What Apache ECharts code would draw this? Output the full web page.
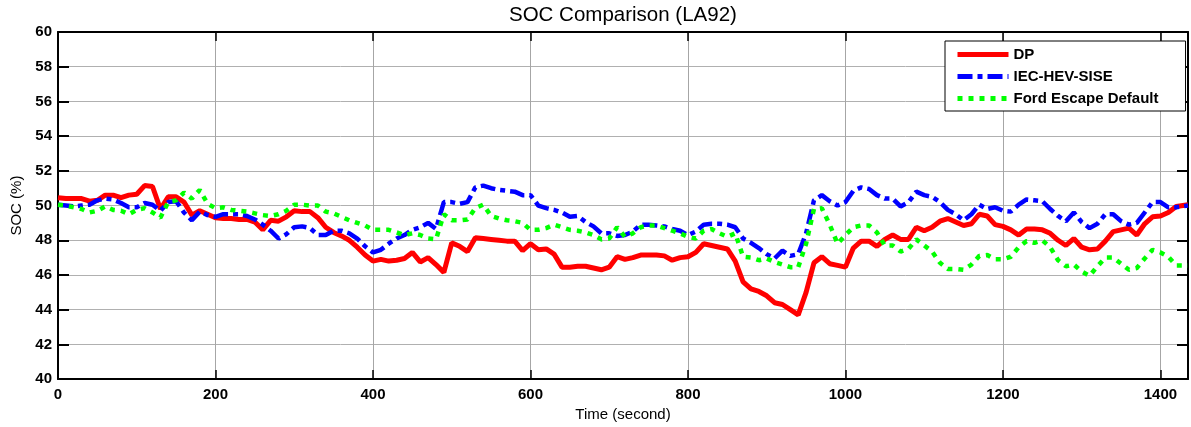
<!DOCTYPE html>
<html>
<head>
<meta charset="utf-8">
<title>SOC Comparison (LA92)</title>
<script src="https://cdn.jsdelivr.net/npm/echarts@6/dist/echarts.min.js"></script>
<style>
	html, body { margin: 0; padding: 0; background: #fff; }
	#socChart { width: 1191px; height: 427px; }
</style>
</head>
<body>
<div id="socChart"></div>
<script>
	// time (s)
	var times = [
		0, 10, 20, 30, 40, 50, 60, 70, 80, 90,
		100, 110, 120, 130, 140, 150, 160, 170, 180, 190,
		200, 210, 220, 230, 240, 250, 260, 270, 280, 290,
		300, 310, 320, 330, 340, 350, 360, 370, 380, 390,
		400, 410, 420, 430, 440, 450, 460, 470, 480, 490,
		500, 510, 520, 530, 540, 550, 560, 570, 580, 590,
		600, 610, 620, 630, 640, 650, 660, 670, 680, 690,
		700, 710, 720, 730, 740, 750, 760, 770, 780, 790,
		800, 810, 820, 830, 840, 850, 860, 870, 880, 890,
		900, 910, 920, 930, 940, 950, 960, 970, 980, 990,
		1000, 1010, 1020, 1030, 1040, 1050, 1060, 1070, 1080, 1090,
		1100, 1110, 1120, 1130, 1140, 1150, 1160, 1170, 1180, 1190,
		1200, 1210, 1220, 1230, 1240, 1250, 1260, 1270, 1280, 1290,
		1300, 1310, 1320, 1330, 1340, 1350, 1360, 1370, 1380, 1390,
		1400, 1410, 1420, 1435
	];
	// SOC (%) per strategy
	var socDP = [
		50.45, 50.4, 50.4, 50.4, 50.25, 50.3, 50.6, 50.6, 50.45, 50.6,
		50.65, 51.15, 51.1, 49.8, 50.5, 50.5, 50.2, 49.45, 49.7, 49.5,
		49.3, 49.25, 49.25, 49.2, 49.2, 49.05, 48.6, 49.15, 49.1, 49.35,
		49.7, 49.65, 49.65, 49.3, 48.75, 48.45, 48.25, 48.0, 47.6, 47.15,
		46.8, 46.9, 46.8, 46.85, 46.95, 47.3, 46.75, 47.0, 46.6, 46.15,
		47.85, 47.65, 47.35, 48.15, 48.1, 48.05, 48.0, 47.95, 47.95, 47.4,
		47.8, 47.45, 47.5, 47.2, 46.45, 46.45, 46.5, 46.5, 46.4, 46.3,
		46.45, 47.05, 46.9, 47.0, 47.15, 47.15, 47.15, 47.1, 46.85, 47.0,
		47.05, 47.3, 47.8, 47.7, 47.6, 47.5, 46.8, 45.6, 45.2, 45.05,
		44.8, 44.4, 44.3, 44.0, 43.7, 45.0, 46.7, 47.05, 46.65, 46.55,
		46.45, 47.55, 47.95, 47.95, 47.65, 48.05, 48.3, 48.05, 48.05, 48.75,
		48.55, 48.75, 49.1, 49.25, 49.05, 48.85, 48.95, 49.5, 49.4, 48.9,
		48.8, 48.6, 48.3, 48.65, 48.65, 48.6, 48.4, 48.0, 47.7, 48.1,
		47.6, 47.45, 47.5, 47.95, 48.5, 48.6, 48.7, 48.3, 48.95, 49.35,
		49.4, 49.6, 49.95, 50.05
	];
	var socIEC = [
		50.05, 50.0, 49.95, 50.0, 50.05, 50.3, 50.4, 50.35, 50.15, 49.9,
		49.9, 50.15, 50.05, 49.7, 50.2, 50.25, 49.6, 49.15, 49.65, 49.45,
		49.35, 49.5, 49.5, 49.5, 49.4, 49.2, 48.9, 48.55, 48.1, 48.35,
		48.75, 48.8, 48.7, 48.3, 48.3, 48.55, 48.55, 48.4, 48.1, 47.65,
		47.3, 47.45, 47.8, 48.1, 48.3, 48.6, 48.75, 49.0, 48.65, 50.2,
		50.2, 50.1, 50.2, 51.05, 51.15, 51.0, 50.9, 50.85, 50.8, 50.6,
		50.6, 50.0, 49.85, 49.75, 49.6, 49.35, 49.4, 49.05, 48.8, 48.4,
		48.4, 48.25, 48.3, 48.5, 48.9, 48.9, 48.85, 48.8, 48.65, 48.55,
		48.3, 48.5, 48.9, 48.95, 48.95, 48.9, 48.75, 48.1, 47.85, 47.55,
		47.2, 46.95, 47.4, 47.1, 47.2, 48.4, 50.3, 50.6, 50.25, 50.0,
		50.2, 50.85, 51.05, 50.95, 50.6, 50.4, 50.4, 49.95, 50.2, 50.8,
		50.6, 50.5, 50.2, 49.75, 49.5, 49.15, 49.5, 50.05, 49.8, 49.9,
		49.7, 49.65, 50.05, 50.35, 50.3, 50.25, 49.8, 49.4, 49.1, 49.6,
		49.05, 48.7, 48.95, 49.5, 49.5, 49.1, 48.9, 49.0, 49.6, 50.2,
		50.2, 49.9, 49.9, 50.0
	];
	var socFord = [
		50.05, 50.0, 49.9, 49.8, 49.6, 49.7, 49.95, 49.75, 49.7, 49.5,
		49.75, 49.85, 49.6, 49.3, 50.2, 50.3, 50.75, 50.4, 50.9, 50.1,
		49.85, 49.9, 49.75, 49.7, 49.65, 49.55, 49.45, 49.4, 49.5, 49.7,
		50.05, 50.05, 50.0, 50.0, 49.65, 49.55, 49.35, 49.15, 49.0, 48.85,
		48.6, 48.6, 48.6, 48.45, 48.3, 48.4, 48.3, 48.1, 48.05, 49.5,
		49.15, 49.15, 49.2, 49.85, 50.05, 49.4, 49.25, 49.15, 49.1, 49.0,
		48.6, 48.6, 48.7, 48.9, 48.75, 48.6, 48.55, 48.45, 48.3, 48.05,
		48.1, 48.75, 48.2, 48.4, 48.75, 48.85, 48.85, 48.7, 48.55, 48.4,
		48.2, 48.1, 48.55, 48.65, 48.4, 48.2, 48.4, 47.05, 47.0, 46.85,
		46.95, 46.75, 46.6, 46.45, 46.45, 47.8, 49.8, 49.85, 48.9, 47.8,
		48.3, 48.75, 48.85, 48.85, 48.45, 47.7, 47.7, 47.35, 47.5, 48.05,
		47.7, 47.35, 46.7, 46.35, 46.35, 46.3, 46.6, 47.1, 47.15, 46.9,
		46.9, 47.05, 47.6, 47.95, 47.85, 48.0, 47.6, 46.85, 46.5, 46.6,
		46.2, 45.95, 46.5, 47.0, 47.0, 46.65, 46.3, 46.4, 46.95, 47.45,
		47.3, 47.05, 46.55, 46.55
	];
	var seriesNames = ['DP', 'IEC-HEV-SISE', 'Ford Escape Default'];
	var xTicks = [0, 200, 400, 600, 800, 1000, 1200, 1400];

	function pairs(vals) {
		return times.map(function (t, i) { return [t, vals[i]]; });
	}

	var font = "'Liberation Sans', Arial, Helvetica, sans-serif";
	var myChart = echarts.init(document.getElementById('socChart'));

	var baseX = {
		type: 'value',
		min: 0,
		max: 1435,
		interval: 200,
		axisLine: { show: true, onZero: false, lineStyle: { color: '#000', width: 2 } },
		axisTick: { show: true, inside: true, length: 9, lineStyle: { color: '#000', width: 1.5 } }
	};
	var baseY = {
		type: 'value',
		min: 40,
		max: 60,
		interval: 2,
		axisLine: { show: true, onZero: false, lineStyle: { color: '#000', width: 2 } },
		axisTick: { show: true, inside: true, length: 11, lineStyle: { color: '#000', width: 2 } }
	};

	myChart.setOption({
		animation: false,
		backgroundColor: '#fff',
		title: {
			text: 'SOC Comparison (LA92)',
			left: 509,
			top: 5,
			padding: 0,
			textStyle: { fontFamily: font, fontSize: 20.5, fontWeight: 'normal', color: '#000' }
		},
		legend: {
			data: seriesNames,
			orient: 'vertical',
			left: 945,
			top: 41,
			padding: [6, 27, 5, 10],
			itemWidth: 51,
			itemHeight: 14,
			itemGap: 7,
			itemStyle: { opacity: 0 },
			lineStyle: { width: 5 },
			backgroundColor: '#fff',
			borderColor: '#000',
			borderWidth: 1,
			borderRadius: 0,
			textStyle: { fontFamily: font, fontSize: 15, fontWeight: 'bold', color: '#000' }
		},
		grid: { left: 58, right: 1, top: 32, bottom: 47 },
		xAxis: [
			Object.assign({}, baseX, {
				position: 'bottom',
				name: 'Time (second)',
				nameLocation: 'middle',
				nameGap: 23,
				nameTextStyle: { fontFamily: font, fontSize: 15, color: '#000' },
				axisLabel: {
					margin: 8,
					fontFamily: font, fontSize: 15, fontWeight: 'bold', color: '#000',
					formatter: function (v) { return xTicks.indexOf(v) >= 0 ? String(v) : ''; }
				},
				splitLine: { show: true, lineStyle: { color: '#a6a6a6', width: 1 } }
			}),
			Object.assign({}, baseX, {
				position: 'top',
				axisLabel: { show: false },
				splitLine: { show: false }
			})
		],
		yAxis: [
			Object.assign({}, baseY, {
				position: 'left',
				name: 'SOC (%)',
				nameLocation: 'middle',
				nameGap: 33,
				nameTextStyle: { fontFamily: font, fontSize: 15, color: '#000' },
				axisLabel: { margin: 6, fontFamily: font, fontSize: 15, fontWeight: 'bold', color: '#000' },
				splitLine: { show: true, lineStyle: { color: '#b0b0b0', width: 1 } }
			}),
			Object.assign({}, baseY, {
				position: 'right',
				axisLabel: { show: false },
				splitLine: { show: false }
			})
		],
		series: [
			{
				name: seriesNames[0],
				type: 'line',
				data: pairs(socDP),
				symbol: 'none',
				color: '#ff0000',
				lineStyle: { color: '#ff0000', width: 5, type: 'solid' }
			},
			{
				name: seriesNames[1],
				type: 'line',
				data: pairs(socIEC),
				symbol: 'none',
				color: '#0000ff',
				lineStyle: { color: '#0000ff', width: 4.5, type: [15, 5, 5, 5], cap: 'butt' }
			},
			{
				name: seriesNames[2],
				type: 'line',
				data: pairs(socFord),
				symbol: 'none',
				color: '#00ff00',
				lineStyle: { color: '#00ff00', width: 4.5, type: [5, 6], cap: 'butt' }
			}
		]
	});
</script>
</body>
</html>
